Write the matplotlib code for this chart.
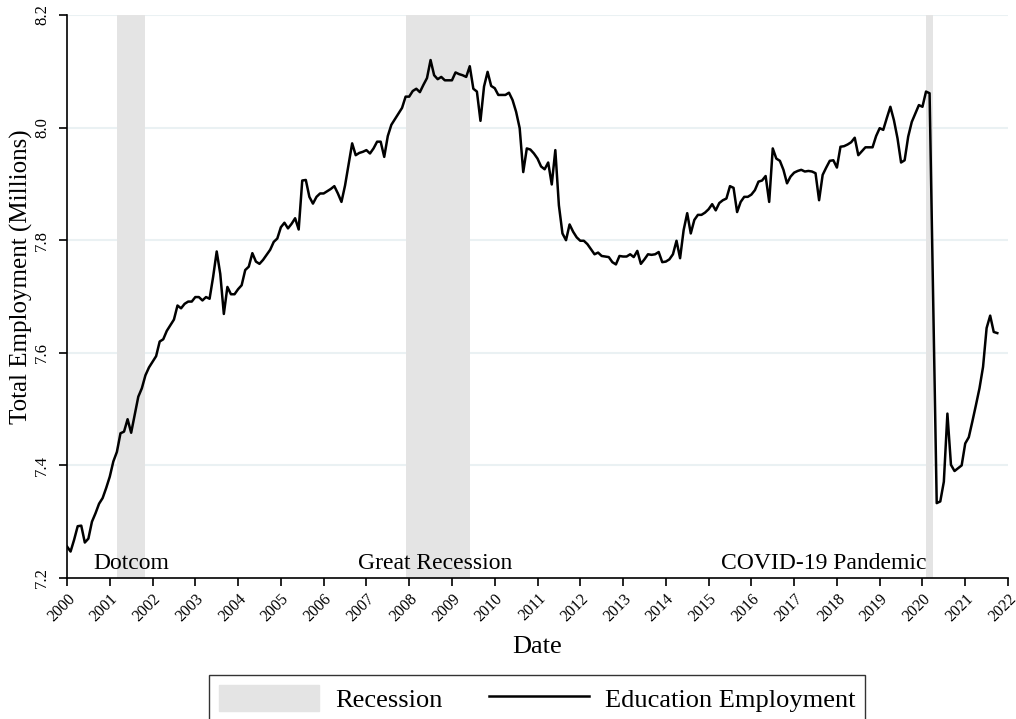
import numpy as np
import matplotlib.pyplot as plt

# --- DATA ---
# monthly education employment (millions), Jan 2000 - Oct 2021
START_YEAR = 2000
employment = [
    # 2000
    7.256, 7.247, 7.268, 7.292, 7.293, 7.263, 7.270, 7.300, 7.315, 7.332, 7.342, 7.360,
    # 2001
    7.380, 7.407, 7.424, 7.457, 7.460, 7.482, 7.458, 7.490, 7.522, 7.537, 7.560, 7.574,
    # 2002
    7.584, 7.594, 7.620, 7.624, 7.639, 7.649, 7.659, 7.684, 7.679, 7.687, 7.691, 7.691,
    # 2003
    7.699, 7.699, 7.693, 7.699, 7.696, 7.735, 7.780, 7.740, 7.669, 7.717, 7.704, 7.704,
    # 2004
    7.713, 7.720, 7.747, 7.753, 7.777, 7.762, 7.758, 7.765, 7.774, 7.783, 7.797, 7.803,
    # 2005
    7.823, 7.831, 7.821, 7.829, 7.839, 7.819, 7.906, 7.907, 7.877, 7.865, 7.877, 7.883,
    # 2006
    7.883, 7.887, 7.891, 7.896, 7.883, 7.868, 7.897, 7.934, 7.972, 7.951, 7.955, 7.957,
    # 2007
    7.960, 7.954, 7.963, 7.975, 7.975, 7.948, 7.985, 8.005, 8.015, 8.025, 8.035, 8.055,
    # 2008
    8.055, 8.065, 8.069, 8.063, 8.076, 8.088, 8.120, 8.093, 8.086, 8.090, 8.084, 8.084,
    # 2009
    8.084, 8.098, 8.095, 8.093, 8.090, 8.109, 8.069, 8.064, 8.012, 8.073, 8.099, 8.074,
    # 2010
    8.070, 8.058, 8.058, 8.058, 8.062, 8.049, 8.028, 7.999, 7.921, 7.963, 7.961, 7.954,
    # 2011
    7.945, 7.931, 7.926, 7.938, 7.899, 7.960, 7.862, 7.812, 7.800, 7.828, 7.815, 7.805,
    # 2012
    7.799, 7.799, 7.793, 7.784, 7.775, 7.778, 7.772, 7.771, 7.770, 7.761, 7.757, 7.772,
    # 2013
    7.771, 7.771, 7.775, 7.770, 7.781, 7.758, 7.766, 7.775, 7.774, 7.775, 7.779, 7.761,
    # 2014
    7.762, 7.766, 7.775, 7.799, 7.768, 7.818, 7.848, 7.812, 7.836, 7.845, 7.845, 7.849,
    # 2015
    7.855, 7.864, 7.853, 7.866, 7.871, 7.874, 7.896, 7.893, 7.850, 7.868, 7.877, 7.877,
    # 2016
    7.881, 7.889, 7.904, 7.906, 7.914, 7.868, 7.963, 7.945, 7.941, 7.925, 7.901, 7.913,
    # 2017
    7.920, 7.923, 7.925, 7.922, 7.923, 7.922, 7.919, 7.871, 7.916, 7.929, 7.941, 7.942,
    # 2018
    7.929, 7.966, 7.967, 7.970, 7.974, 7.982, 7.951, 7.958, 7.965, 7.965, 7.965, 7.985,
    # 2019
    7.999, 7.996, 8.017, 8.037, 8.013, 7.981, 7.938, 7.942, 7.984, 8.010, 8.025, 8.040,
    # 2020
    8.037, 8.064, 8.061, 7.700, 7.333, 7.336, 7.371, 7.492, 7.401, 7.390, 7.395, 7.400,
    # 2021
    7.439, 7.450, 7.478, 7.507, 7.537, 7.575, 7.644, 7.666, 7.637, 7.635,
]

# recessions as (year, month) start / end
rec_names = ['Dotcom', 'Great Recession', 'COVID-19 Pandemic']
rec_start = [(2001, 3), (2007, 12), (2020, 2)]
rec_end = [(2001, 11), (2009, 6), (2020, 4)]

year_ticks = list(range(2000, 2023))
y_ticks = [7.2, 7.4, 7.6, 7.8, 8.0, 8.2]

# --- STYLE ---
plt.rcParams['font.family'] = ['Liberation Serif', 'DejaVu Serif']
SHADE = '#e4e4e4'
GRID = '#eaf1f3'


def ym(y, m):
    return y + (m - 1) / 12.0


x = START_YEAR + np.arange(len(employment)) / 12.0

fig = plt.figure(figsize=(10.16, 7.19), dpi=100)
ax = fig.add_axes([67 / 1016, 141 / 719, 941 / 1016, 563 / 719])

for name, s, e in zip(rec_names, rec_start, rec_end):
    x0, x1 = ym(*s), ym(*e)
    ax.axvspan(x0, x1, color=SHADE, lw=0, zorder=1)

ax.plot(x, employment, color='black', lw=1.8, zorder=3)

# recession labels
lab_y = 7.207
ax.text((ym(*rec_start[0]) + ym(*rec_end[0])) / 2, lab_y, rec_names[0],
        ha='center', va='bottom', fontsize=17, zorder=4)
ax.text((ym(*rec_start[1]) + ym(*rec_end[1])) / 2 - 0.06, lab_y, rec_names[1],
        ha='center', va='bottom', fontsize=17, zorder=4)
ax.text(ym(*rec_start[2]), lab_y, rec_names[2],
        ha='right', va='bottom', fontsize=17, zorder=4)

ax.set_xlim(2000, 2022)
ax.set_ylim(7.2, 8.2)
ax.set_xticks(year_ticks)
ax.set_xticklabels([str(t) for t in year_ticks], rotation=45, ha='right',
                   rotation_mode='anchor', fontsize=11.5)
ax.set_yticks(y_ticks)
ax.set_yticklabels([f'{v:.1f}' for v in y_ticks], rotation=90, va='center',
                   fontsize=12)
ax.tick_params(axis='both', direction='out', length=6, width=1.2)
ax.tick_params(axis='x', pad=3)
ax.tick_params(axis='y', pad=6)

for v in y_ticks[1:]:
    ax.axhline(v, color=GRID, lw=1.5, zorder=0)

for s in ['top', 'right']:
    ax.spines[s].set_visible(False)
for s in ['left', 'bottom']:
    ax.spines[s].set_linewidth(1.2)
    ax.spines[s].set_zorder(5)

ax.set_xlabel('Date', fontsize=19, labelpad=8)
ax.set_ylabel('Total Employment (Millions)', fontsize=18)
ax.yaxis.set_label_coords(-0.0365, 0.535)

handles = [plt.Rectangle((0, 0), 1, 1, color=SHADE),
           plt.Line2D([0], [0], color='black', lw=1.8)]
leg = fig.legend(handles, ['Recession', 'Education Employment'],
                 loc='upper center', bbox_to_anchor=(537 / 1016, 44 / 719),
                 borderaxespad=0, ncol=2, fontsize=19, frameon=True,
                 fancybox=False, handlelength=3.8, handleheight=1.15,
                 columnspacing=1.75, borderpad=0.38, handletextpad=0.6,
                 edgecolor='black')
leg.get_frame().set_linewidth(1.0)

fig.savefig('out.png', dpi=100)
